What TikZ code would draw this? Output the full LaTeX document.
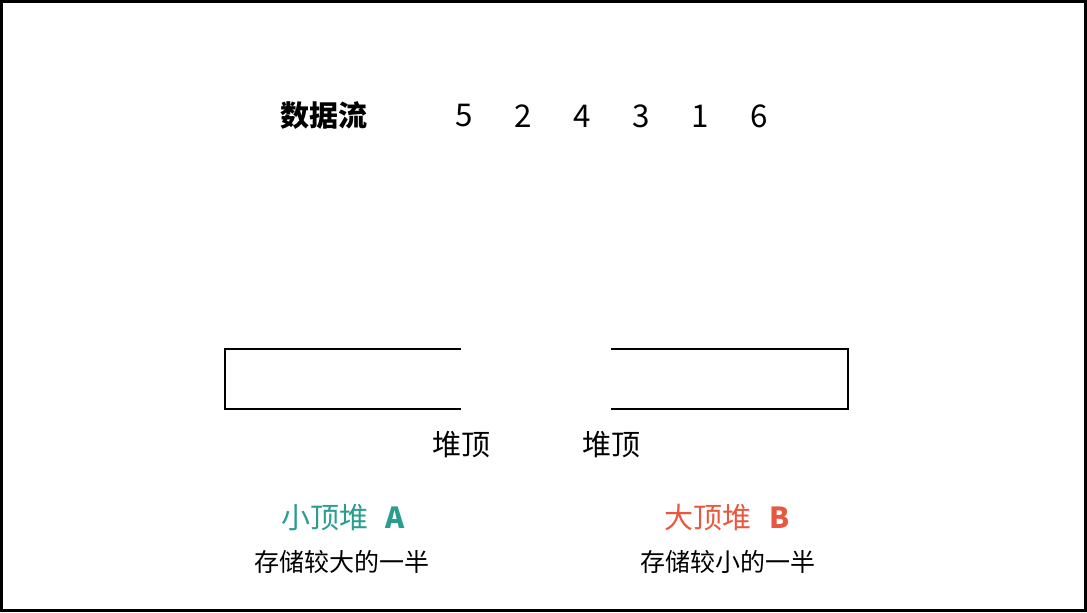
\documentclass[tikz,border=0pt]{standalone}
\usepackage{fontspec}
\setmainfont{Noto Sans CJK SC}
\definecolor{minheap}{HTML}{2A9D8F}
\definecolor{maxheap}{HTML}{E9573F}
\begin{document}
\begin{tikzpicture}[x=0.75pt,y=-0.75pt,
    bigtext/.style={inner sep=0pt, font=\fontsize{21.75}{26}\selectfont},
    smalltext/.style={inner sep=0pt, font=\fontsize{18.75}{22}\selectfont},
    heapline/.style={line width=1.5pt}]
    \def \top{349}
    \def \bot{409}

    \useasboundingbox (0,0) rectangle (1087,612);
    \draw[line width=2.25pt] (1.5,1.5) rectangle (1085.5,610.5);

    % data stream
    \node[bigtext, font=\fontsize{21.75}{26}\selectfont\bfseries] (stream) at (324,116) {数据流};
    \foreach \n [count=\i] in {5,2,4,3,1,6}{ \node[bigtext, font=\fontsize{23.5}{28}\selectfont] (num\i) at (405+59*\i,116) {\n}; }%

    % two heaps, open ends facing each other
    \coordinate (minA) at (225,\top);
    \coordinate (minB) at (461,\bot);
    \coordinate (maxA) at (611,\top);
    \coordinate (maxB) at (848,\bot);
    \draw[heapline] (minB |- minA) -- (minA) -- (minA |- minB) -- (minB);
    \draw[heapline] (maxA) -- (maxB |- maxA) -- (maxB) -- (maxA |- maxB);

    \node[bigtext] (minTop) at (461,445) {堆顶};
    \node[bigtext] (maxTop) at (611,445) {堆顶};

    \node[bigtext, text=minheap] (minName) at (343,518) {小顶堆\hspace{0.6em}\textbf{A}};
    \node[bigtext, text=maxheap] (maxName) at (727,518) {大顶堆\hspace{0.6em}\textbf{B}};
    \node[smalltext] (minNote) at (342,562) {存储较大的一半};
    \node[smalltext] (maxNote) at (728,562) {存储较小的一半};
   \end{tikzpicture}
\end{document}
